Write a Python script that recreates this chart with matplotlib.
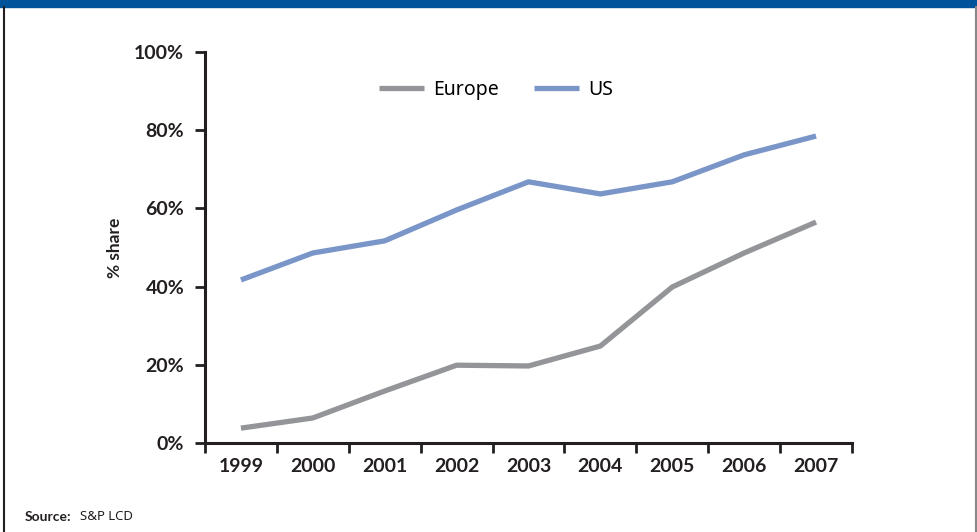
import matplotlib.pyplot as plt
from matplotlib.patches import Rectangle
from matplotlib.lines import Line2D

plt.rcParams['font.family'] = ['Noto Sans', 'DejaVu Sans']
BOLD = ['Lato', 'DejaVu Sans']

years = ['1999', '2000', '2001', '2002', '2003', '2004', '2005', '2006', '2007']
europe = [3.8, 6.4, 13.3, 19.9, 19.7, 24.8, 39.9, 48.6, 56.5]
us = [41.7, 48.6, 51.7, 59.6, 66.8, 63.7, 66.8, 73.7, 78.5]

fig = plt.figure(figsize=(9.77, 5.32), dpi=100)

# frame: blue top bar and side borders
fig.patches.append(Rectangle((0, 1 - 7/532), 1, 7/532, transform=fig.transFigure,
                             color='#00529B', zorder=0))
fig.lines.append(Line2D([3.5/977, 3.5/977], [0, 1 - 7/532], transform=fig.transFigure,
                        color='#231F20', lw=1.5))
fig.lines.append(Line2D([975.5/977, 975.5/977], [0, 1 - 7/532], transform=fig.transFigure,
                        color='#888888', lw=1.5))

ax = fig.add_axes([205/977, 89/532, 647/977, 391/532])

x = range(len(years))
ax.plot(x, europe, color='#939598', lw=3.8, label='Europe', solid_capstyle='butt')
ax.plot(x, us, color='#7A96C8', lw=3.8, label='US', solid_capstyle='butt')

ax.set_xlim(-0.5, len(years) - 0.5)
ax.set_ylim(0, 100)

ax.set_yticks([0, 20, 40, 60, 80, 100])
ax.set_yticklabels([f'{v}%' for v in [0, 20, 40, 60, 80, 100]],
                   fontsize=14, fontweight='bold', family=BOLD, color='#231F20')

# ticks between categories, labels centered
ax.set_xticks([i - 0.5 for i in range(len(years) + 1)])
ax.set_xticklabels([])
ax.set_xticks(list(x), minor=True)
ax.set_xticklabels(years, minor=True, fontsize=14, fontweight='bold', family=BOLD,
                   color='#231F20')
ax.tick_params(axis='x', which='minor', length=0, pad=11)
ax.tick_params(axis='x', which='major', length=7, width=2, color='#231F20', direction='out')
ax.tick_params(axis='y', length=7, width=2, color='#231F20', pad=8)

for s in ['top', 'right']:
    ax.spines[s].set_visible(False)
for s in ['left', 'bottom']:
    ax.spines[s].set_linewidth(2.2)
    ax.spines[s].set_color('#231F20')

ax.set_ylabel('% share', fontsize=12.5, fontweight='bold', family=BOLD, color='#231F20',
              labelpad=8)

ax.legend(loc='center', bbox_to_anchor=(0.45, 0.903), ncol=2, frameon=False,
          fontsize=14, handlelength=2.3, columnspacing=1.8, handletextpad=0.5)

fig.text(25/977, 15/532, 'Source:', fontsize=10, fontweight='bold', family=BOLD,
         color='#231F20', va='center')
fig.text(80/977, 15/532, 'S&P LCD', fontsize=9.5, color='#231F20', va='center')

fig.savefig('out.png', dpi=100)
